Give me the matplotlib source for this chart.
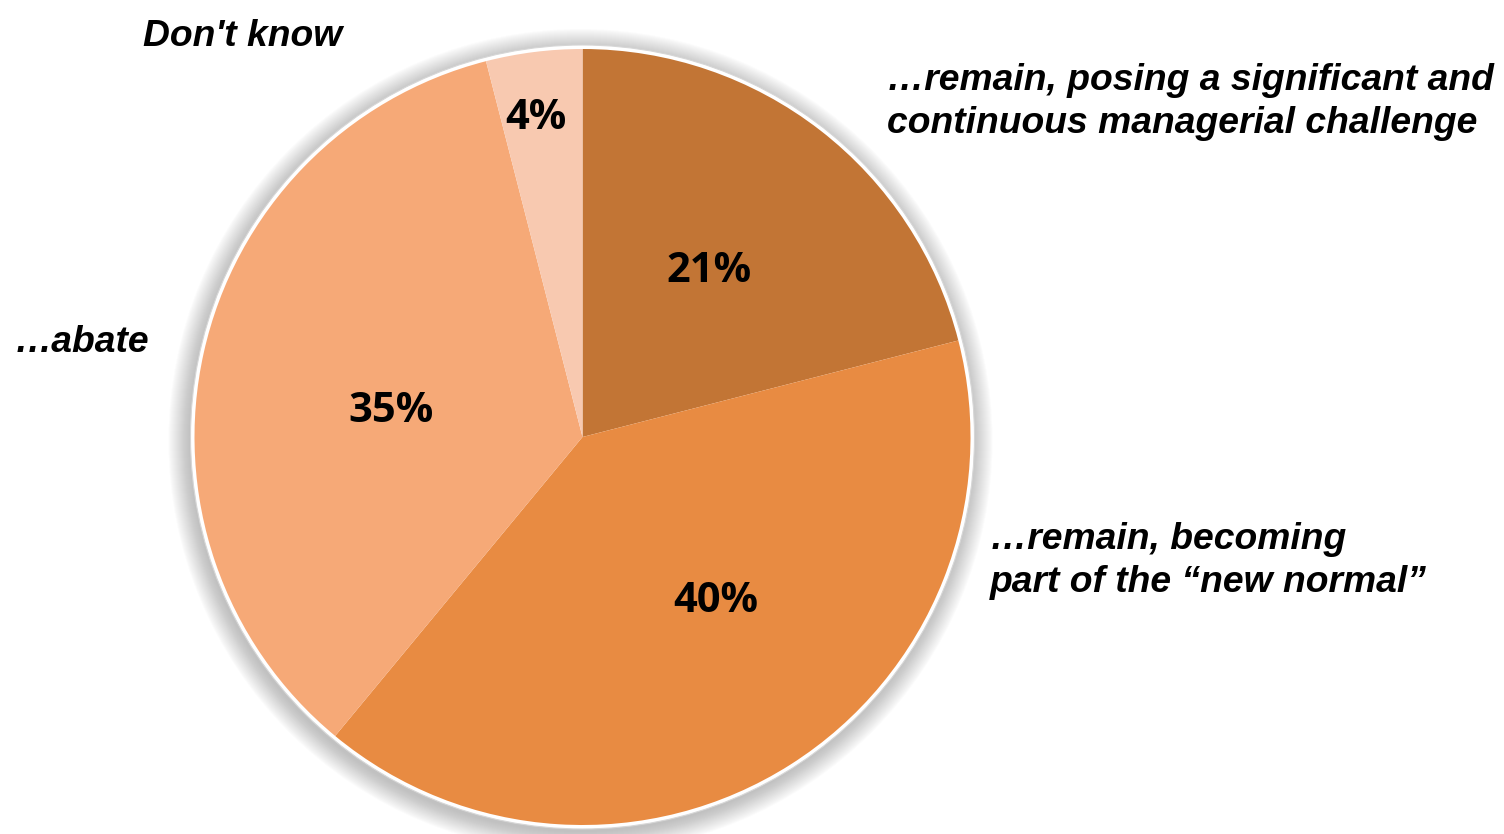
import matplotlib
matplotlib.use("Agg")
import matplotlib.pyplot as plt
from matplotlib.patches import Circle

# survey answers, clockwise from 12 o'clock
categories = ["\u2026remain, posing a significant and\ncontinuous managerial challenge",
              "\u2026remain, becoming\npart of the \u201cnew normal\u201d",
              "\u2026abate",
              "Don't know"]
shares = [21, 40, 35, 4]
colors = ["#C27535", "#E88B42", "#F6A977", "#F8C9B0"]

W, H = 1504, 834
cx, cy, r = 582.5, H - 437, 388

fig = plt.figure(figsize=(W / 100, H / 100), dpi=100)
ax = fig.add_axes([0, 0, 1, 1])

# soft shadow around the pie
for k in range(24, 2, -1):
    ax.add_patch(Circle((cx - 2, cy - 4), r + k, color="#7a7a7a", alpha=0.022, lw=0, zorder=0))
ax.add_patch(Circle((cx, cy), r + 4, facecolor="white", edgecolor="#d6d6d6", lw=0.8, zorder=1))

wedges, _ = ax.pie(shares, colors=colors, startangle=90, counterclock=False,
                   center=(cx, cy), radius=r, wedgeprops=dict(linewidth=0))
for w in wedges:
    w.set_zorder(2)

# percent labels
pct_pos = [(709, 271), (716, 601), (391, 411), (536, 118)]
for v, (x, y) in zip(shares, pct_pos):
    ax.text(x, H - y, f"{v}%", ha="center", va="center", fontsize=30,
            fontweight="bold", family="Open Sans", zorder=3)

# category labels
lab_pos = [(887, 102), (990, 561), (15, 342), (143, 36)]
for txt, (x, y) in zip(categories, lab_pos):
    ax.text(x, H - y, txt, ha="left", va="center", fontsize=26.8, fontweight="bold",
            fontstyle="italic", family="Liberation Sans", linespacing=1.3, zorder=3)

ax.set_xlim(0, W)
ax.set_ylim(0, H)
ax.set_aspect("equal")
ax.axis("off")

fig.savefig("out.png", dpi=100)
